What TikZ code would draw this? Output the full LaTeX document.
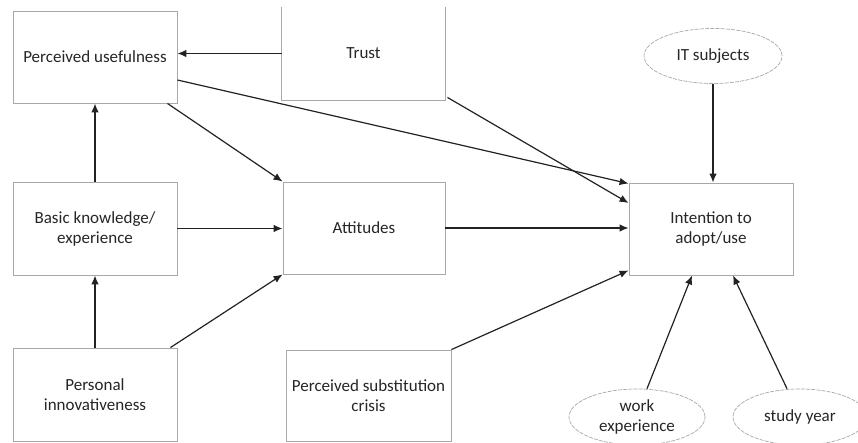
\documentclass[tikz,border=0pt]{standalone}
\usepackage{fontspec}
\setmainfont{Carlito}
\usetikzlibrary{arrows.meta,shapes.geometric,calc}
\definecolor{boxline}{HTML}{A8A8A8}
\definecolor{txt}{HTML}{262626}
\definecolor{arrowc}{HTML}{222222}
\tikzset{
  box/.style={draw=boxline, line width=0.9pt, fill=white, text=txt, align=center,
    inner sep=0pt, font=\fontsize{17}{20}\selectfont},
  oval/.style={ellipse, draw=boxline, line width=0.7pt, dash pattern=on 4pt off 1.2pt,
    text=txt, align=center, inner sep=0pt, font=\fontsize{17}{20}\selectfont},
  arr/.style={draw=arrowc, line width=1.2pt, -{Latex[length=9pt,width=7.5pt]}}
}
\begin{document}
\begin{tikzpicture}[x=1pt,y=-1pt]
  \useasboundingbox (0,0) rectangle (858,442);

  % rectangular constructs
  \node[box, minimum width=164pt, minimum height=92pt] (pu) at (95,57) {Perceived usefulness};
  \node[box, draw=none, minimum width=163pt, minimum height=93pt] (trust) at (363.5,53.5) {Trust};
  \draw[boxline, line width=0.9pt] (trust.north west) -- (trust.south west) -- (trust.south east) -- (trust.north east);
  \node[box, minimum width=164pt, minimum height=93pt] (basic) at (95,228.5) {Basic knowledge/\\experience};
  \node[box, minimum width=162pt, minimum height=92pt] (att) at (364,228) {Attitudes};
  \node[box, minimum width=164pt, minimum height=93pt] (pi) at (95,394.5) {Personal\\innovativeness};
  \node[box, minimum width=165pt, minimum height=91pt] (sub) at (368.5,395.5) {Perceived substitution\\crisis};
  \node[box, minimum width=164pt, minimum height=92pt] (int) at (711,229) {Intention to\\adopt/use};

  % moderating variables
  \node[oval, minimum width=138pt, minimum height=55pt] (it) at (713,56) {IT subjects};
  \node[oval, minimum width=136pt, minimum height=56pt] (work) at (637,417) {work\\experience};
  \node[oval, minimum width=134pt, minimum height=56pt] (study) at (800,417) {study year};

  % paths
  \draw[arr] (trust.west) -- (trust.west -| pu.east);
  \draw[arr] ($(pu.east)+(0,23)$) -- ($(int.north west)+(0,1)$);
  \draw[arr] ($(trust.south east)+(2,-3)$) -- ($(int.west)+(0,-26)$);
  \draw[arr] ($(pu.south east)+(-10,0)$) -- (att.north west);
  \draw[arr] (basic.north) -- (pu.south);
  \draw[arr] (basic.east) -- (basic.east -| att.west);
  \draw[arr] (pi.north) -- (basic.south);
  \draw[arr] ($(pi.north east)+(-7,0)$) -- (att.south west);
  \draw[arr] (att.east) -- (att.east -| int.west);
  \draw[arr] (sub.north east) -- ($(int.south west)+(0,-5)$);
  \draw[arr] (it.south) -- (it.south |- int.north);
  \draw[arr] ($(work.north)+(10,0)$) -- ($(int.south)+(-19,0)$);
  \draw[arr] ($(study.north)+(-13,0)$) -- ($(int.south)+(22,0)$);
\end{tikzpicture}
\end{document}
